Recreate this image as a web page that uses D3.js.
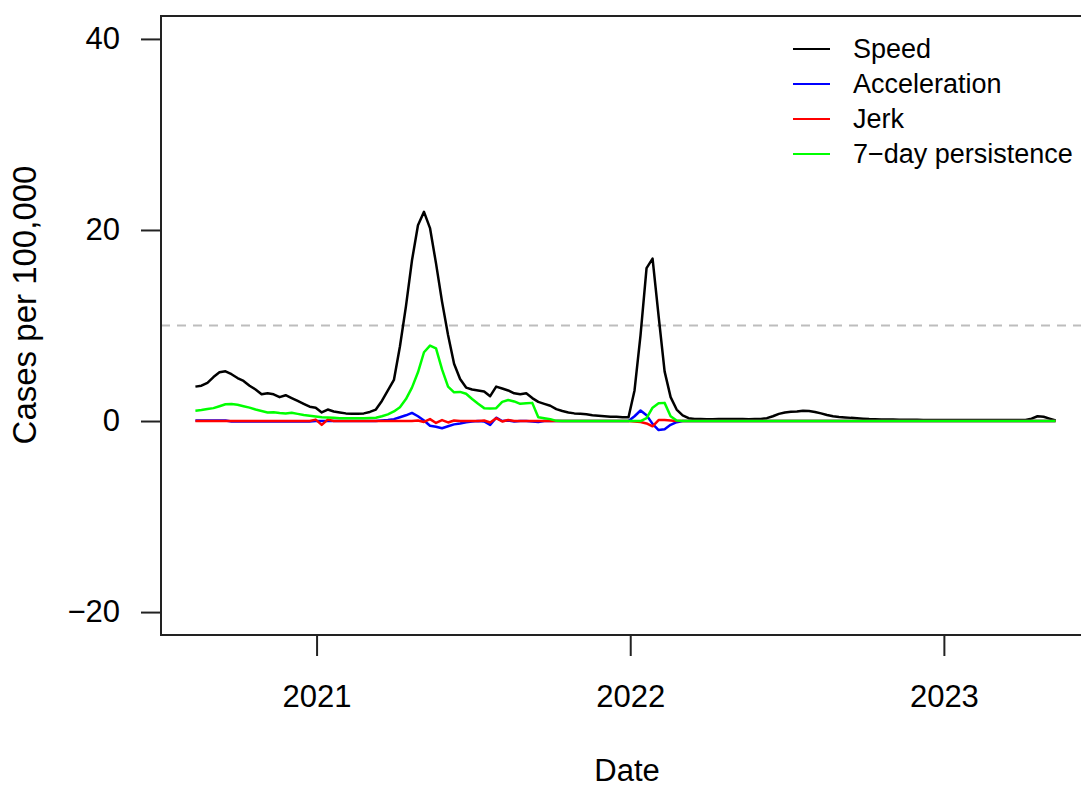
<!DOCTYPE html>
<html>
<head>
<meta charset="utf-8">
<script src="https://cdn.jsdelivr.net/npm/d3@7"></script>
<style>
  body { margin: 0; background: #fff; }
  svg { display: block; font-family: "Liberation Sans", Arial, Helvetica, sans-serif; }
</style>
</head>
<body>
<svg id="chart" width="1081" height="788"></svg>
<script>
// weekly series, first week below
const startDate = "2020-08-13";

const speed = [
  3.6, 3.7, 4.0, 4.6, 5.1, 5.2, 4.9, 4.5, 4.2, 3.7,
  3.3, 2.8, 2.9, 2.8, 2.5, 2.7, 2.4, 2.1, 1.8, 1.5,
  1.4, 0.9, 1.2, 1.0, 0.9, 0.8, 0.75, 0.75, 0.8, 0.95,
  1.2, 2.1, 3.2, 4.3, 7.8, 12.0, 16.8, 20.5, 21.9, 20.2,
  16.5, 12.5, 9.0, 6.0, 4.4, 3.5, 3.3, 3.2, 3.1, 2.6,
  3.6, 3.4, 3.2, 2.9, 2.8, 2.9, 2.4, 2.0, 1.8, 1.6,
  1.25, 1.05, 0.9, 0.8, 0.75, 0.7, 0.6, 0.55, 0.5, 0.45,
  0.45, 0.4, 0.4, 3.2, 9.0, 16.0, 17.0, 11.0, 5.2, 2.5,
  1.2, 0.6, 0.3, 0.22, 0.2, 0.18, 0.18, 0.2, 0.2, 0.22,
  0.2, 0.2, 0.18, 0.2, 0.22, 0.3, 0.5, 0.75, 0.9, 0.97,
  1.0, 1.08, 1.05, 0.95, 0.8, 0.63, 0.5, 0.42, 0.38, 0.33,
  0.3, 0.25, 0.2, 0.18, 0.16, 0.15, 0.15, 0.14, 0.14, 0.13,
  0.13, 0.12, 0.12, 0.12, 0.11, 0.11, 0.1, 0.1, 0.1, 0.1,
  0.1, 0.1, 0.1, 0.1, 0.1, 0.1, 0.1, 0.1, 0.12, 0.25,
  0.5, 0.45, 0.25, 0.05
];

const acceleration = [
  0.05, 0.05, 0.05, 0.05, 0.05, 0.05, -0.05, -0.05, -0.05, -0.05,
  -0.05, -0.05, -0.05, -0.05, -0.05, -0.05, -0.05, -0.05, -0.05, -0.05,
  0, 0, 0, 0, 0, 0, 0, 0, 0, 0,
  0, 0.05, 0.1, 0.2, 0.4, 0.6, 0.85, 0.5, 0.05, -0.5,
  -0.6, -0.75, -0.55, -0.35, -0.25, -0.12, -0.05, 0, -0.05, -0.4,
  0.35, 0, 0.05, -0.05, 0, 0, -0.05, -0.1, 0, 0,
  0, 0, 0, 0, 0, 0, 0, 0, 0, 0,
  0, 0, 0, 0.5, 1.1, 0.6, -0.3, -0.95, -0.85, -0.4,
  -0.12, 0, 0, 0, 0, 0, 0, 0, 0, 0,
  0, 0, 0, 0, 0, 0, 0, 0, 0, 0,
  0, 0, 0, 0, 0, 0, 0, 0, 0, 0,
  0, 0, 0, 0, 0, 0, 0, 0, 0, 0,
  0, 0, 0, 0, 0, 0, 0, 0, 0, 0,
  0, 0, 0, 0, 0, 0, 0, 0, 0, 0,
  0, 0, 0, 0
];

const jerk = [
  0, 0, 0, 0, 0, 0, 0, 0, 0, 0,
  0, 0, 0, 0, 0, 0, 0, 0, 0, 0,
  0.15, -0.4, 0.15, 0, 0, 0, 0, 0, 0, 0,
  0, 0, 0, 0, 0, 0, 0, 0.05, -0.1, 0.2,
  -0.2, 0.1, -0.15, 0.05, 0, 0, 0, 0, 0.05, -0.15,
  0.3, -0.05, 0.1, 0, 0, 0, 0, 0, 0, 0,
  0, 0, 0, 0, 0, 0, 0, 0, 0, 0,
  0, 0, 0, -0.05, -0.1, -0.25, -0.55, 0.1, 0.1, 0.05,
  0, 0, 0, 0, 0, 0, 0, 0, 0, 0,
  0, 0, 0, 0, 0, 0, 0, 0, 0, 0,
  0, 0, 0, 0, 0, 0, 0, 0, 0, 0,
  0, 0, 0, 0, 0, 0, 0, 0, 0, 0,
  0, 0, 0, 0, 0, 0, 0, 0, 0, 0,
  0, 0, 0, 0, 0, 0, 0, 0, 0, 0,
  0, 0, 0, 0
];

const persistence = [
  1.08, 1.15, 1.25, 1.35, 1.55, 1.75, 1.78, 1.7, 1.55, 1.4,
  1.2, 1.05, 0.9, 0.92, 0.85, 0.8, 0.87, 0.75, 0.63, 0.55,
  0.48, 0.4, 0.36, 0.33, 0.3, 0.28, 0.28, 0.28, 0.3, 0.32,
  0.35, 0.5, 0.7, 1.0, 1.45, 2.3, 3.5, 5.1, 7.2, 7.9,
  7.6, 5.4, 3.6, 3.0, 3.05, 2.85, 2.3, 1.8, 1.35, 1.3,
  1.35, 2.0, 2.2, 2.05, 1.8, 1.85, 1.9, 0.4, 0.3, 0.2,
  0.02, 0, 0, 0, 0, 0, 0, 0, 0, 0,
  0, 0, 0, 0, 0, 0.3, 1.4, 1.85, 1.9, 0.5,
  0.05, 0, 0, 0, 0, 0, 0, 0, 0, 0,
  0, 0, 0, 0, 0, 0, 0, 0, 0, 0,
  0, 0, 0, 0, 0, 0, 0, 0, 0, 0,
  0, 0, 0, 0, 0, 0, 0, 0, 0, 0,
  0, 0, 0, 0, 0, 0, 0, 0, 0, 0,
  0, 0, 0, 0, 0, 0, 0, 0, 0, 0,
  0, 0, 0, 0
];

const yTicks = [-20, 0, 20, 40];
const xTicks = ["2021-01-01", "2022-01-01", "2023-01-01"];
const threshold = 10;
const seriesNames = ["Speed", "Acceleration", "Jerk", "7\u2212day persistence"];
const seriesColors = ["#000000", "#0000ff", "#ff0000", "#00ff00"];

const svg = d3.select("#chart");
svg.append("rect").attr("width", 1081).attr("height", 788).attr("fill", "#fff");

const parse = d3.utcParse("%Y-%m-%d");
const t0 = parse(startDate);
const dates = speed.map((_, i) => d3.utcDay.offset(t0, 7 * i));

// R style 4% padding on the x range
const first = dates[0], last = dates[dates.length - 1];
const pad = (last - first) * 0.04;
const x = d3.scaleUtc()
    .domain([new Date(+first - pad), new Date(+last + pad)])
    .range([161, 1090]);

const y = d3.scaleLinear()
    .domain([-22.4, 42.4])
    .range([635, 16]);

// threshold line
svg.append("line")
    .attr("x1", 161).attr("x2", 1090)
    .attr("y1", y(threshold)).attr("y2", y(threshold))
    .attr("stroke", "#bdbdbd")
    .attr("stroke-width", 2)
    .attr("stroke-dasharray", "9,7");

const line = d3.line()
    .x((d, i) => x(dates[i]))
    .y(d => y(d));

[speed, acceleration, jerk, persistence].forEach((values, k) => {
    svg.append("path")
        .datum(values)
        .attr("d", line)
        .attr("fill", "none")
        .attr("stroke", seriesColors[k])
        .attr("stroke-width", 2.5)
        .attr("stroke-linejoin", "round");
});

// box
svg.append("rect")
    .attr("x", 161).attr("y", 16)
    .attr("width", 929).attr("height", 619)
    .attr("fill", "none")
    .attr("stroke", "#222")
    .attr("stroke-width", 2);

const minus = d => (d < 0 ? "\u2212" + Math.abs(d) : String(d));

const yAxis = svg.append("g")
    .attr("transform", "translate(161,0)")
    .call(d3.axisLeft(y).tickValues(yTicks).tickSize(20).tickPadding(21).tickFormat(minus));

const xAxis = svg.append("g")
    .attr("transform", "translate(0,635)")
    .call(d3.axisBottom(x).tickValues(xTicks.map(parse)).tickSize(21).tickPadding(29)
        .tickFormat(d3.utcFormat("%Y")));

[yAxis, xAxis].forEach(g => {
    g.attr("font-family", null).attr("font-size", null);
    g.select(".domain").remove();
    g.selectAll(".tick line").attr("stroke", "#222").attr("stroke-width", 2);
    g.selectAll(".tick text").attr("fill", "#000").style("font-size", "31px");
});

// axis titles
svg.append("text")
    .attr("x", 627).attr("y", 781)
    .attr("text-anchor", "middle")
    .style("font-size", "31px")
    .text("Date");

svg.append("text")
    .attr("transform", "translate(36,305) rotate(-90)")
    .attr("text-anchor", "middle")
    .style("font-size", "33px")
    .text("Cases per 100,000");

// legend
const legend = svg.append("g");
seriesNames.forEach((name, i) => {
    const ly = 49 + 35 * i;
    legend.append("line")
        .attr("x1", 793).attr("x2", 830)
        .attr("y1", ly).attr("y2", ly)
        .attr("stroke", seriesColors[i])
        .attr("stroke-width", 2);
    legend.append("text")
        .attr("x", 853).attr("y", ly)
        .attr("dy", "0.35em")
        .style("font-size", "27px")
        .text(name);
});
</script>
</body>
</html>
